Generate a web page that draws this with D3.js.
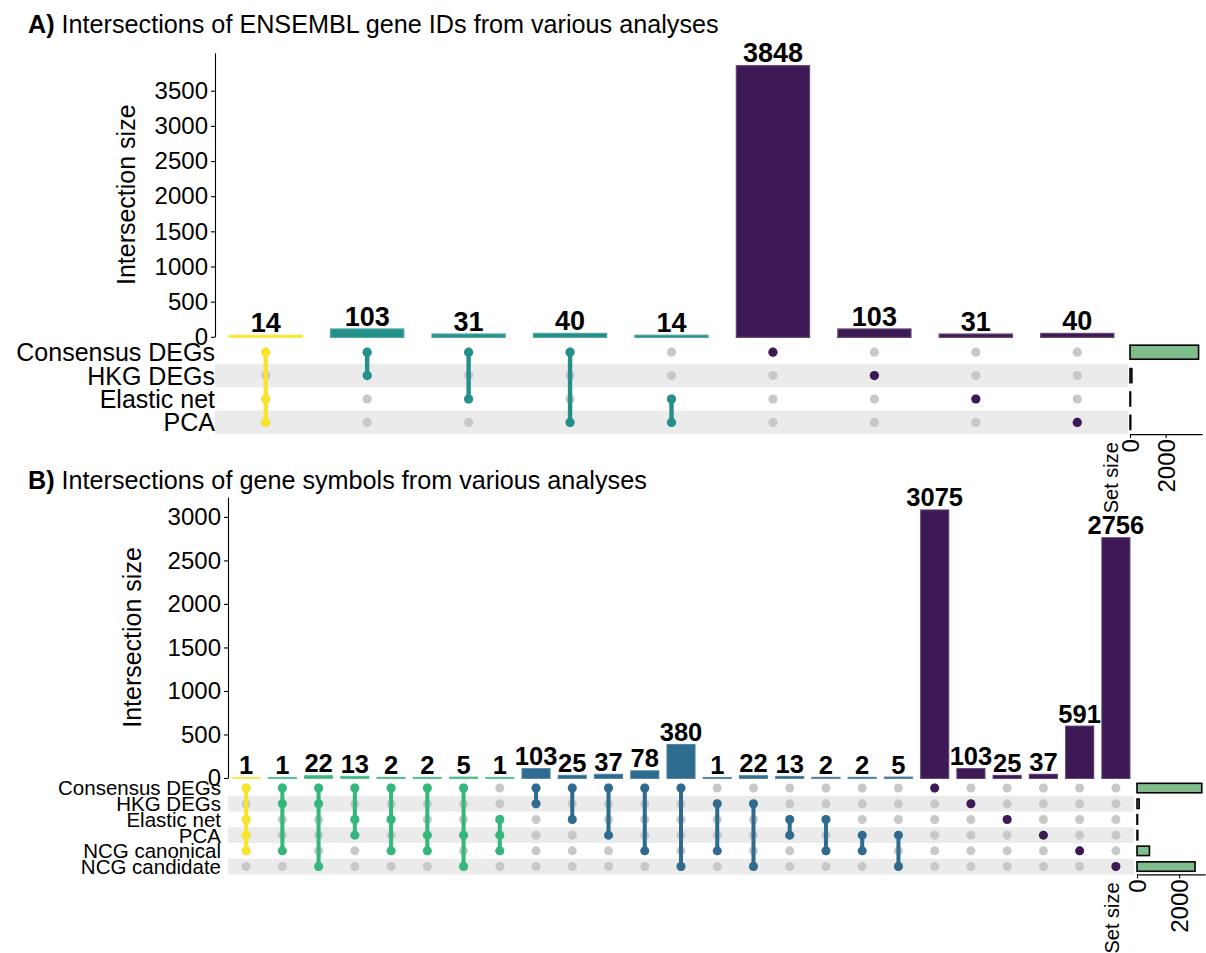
<!DOCTYPE html>
<html>
<head>
<meta charset="utf-8">
<script src="https://cdn.jsdelivr.net/npm/d3@7"></script>
<style>
  body { margin: 0; background: #fff; }
  text { font-family: "Liberation Sans", Arial, Helvetica, sans-serif; }
</style>
</head>
<body>
<svg id="chart" width="1206" height="953"></svg>
<script>
// ---- Panel A: ENSEMBL gene IDs ----
const setsA = ["Consensus DEGs", "HKG DEGs", "Elastic net", "PCA"];
const countsA = [14, 103, 31, 40, 14, 3848, 103, 31, 40];
const membersA = [[0, 2, 3], [0, 1], [0, 2], [0, 3], [2, 3], [0], [1], [2], [3]];
const setSizesA = [3848, 103, 31, 40];
const yTicksA = [0, 500, 1000, 1500, 2000, 2500, 3000, 3500];

// ---- Panel B: gene symbols ----
const setsB = ["Consensus DEGs", "HKG DEGs", "Elastic net", "PCA", "NCG canonical", "NCG candidate"];
const countsB = [1, 1, 22, 13, 2, 2, 5, 1, 103, 25, 37, 78, 380, 1, 22, 13, 2, 2, 5, 3075, 103, 25, 37, 591, 2756];
const membersB = [
  [0, 2, 3, 4], [0, 1, 4], [0, 1, 5], [0, 2, 3], [0, 2, 4], [0, 3, 4], [0, 3, 5], [2, 3, 4],
  [0, 1], [0, 2], [0, 3], [0, 4], [0, 5], [1, 4], [1, 5], [2, 3], [2, 4], [3, 4], [3, 5],
  [0], [1], [2], [3], [4], [5]
];
const setSizesB = [3075, 103, 25, 37, 591, 2756];
const yTicksB = [0, 500, 1000, 1500, 2000, 2500, 3000];

const setSizeTicks = [0, 2000];

// colours by intersection degree (1 = single set)
const degreeColorsA = ["#3d1a55", "#24908a", "#f7e52c"];
const degreeColorsB = ["#3d1a55", "#2e6b8e", "#33b77b", "#f7e52c"];

const svg = d3.select("#chart");
const FONT = '"Liberation Sans", Arial, Helvetica, sans-serif';

function drawUpset(cfg) {
  const g = svg.append("g");
  const n = cfg.counts.length;
  const maxCount = d3.max(cfg.counts);

  // title
  const t = g.append("text")
    .attr("x", cfg.titleX).attr("y", cfg.titleY)
    .attr("font-size", cfg.titleSize);
  t.append("tspan").attr("font-weight", "bold").text(cfg.tag);
  t.append("tspan").text(" " + cfg.title);

  const x = d3.scaleBand().domain(d3.range(n))
    .range([cfg.x0, cfg.x1])
    .paddingInner(cfg.pad).paddingOuter(cfg.pad / 2);
  const y = d3.scaleLinear().domain([0, maxCount * 1.05]).range([cfg.yZero, cfg.yTop]);

  // y axis
  const yAxis = g.append("g")
    .attr("transform", `translate(${cfg.x0},0)`)
    .call(d3.axisLeft(y).tickValues(cfg.yTicks).tickFormat(d3.format("d"))
      .tickSize(4).tickPadding(3).tickSizeOuter(0));
  yAxis.selectAll("text").attr("font-size", cfg.tickSize).attr("fill", "#000")
    .style("font-family", FONT);
  yAxis.selectAll("line, path").attr("stroke", "#000").attr("stroke-width", 1.1);

  g.append("text")
    .attr("transform", `translate(${cfg.yTitleX},${(cfg.yZero + cfg.yTop) / 2}) rotate(-90)`)
    .attr("text-anchor", "middle")
    .attr("font-size", cfg.axisTitleSize)
    .text("Intersection size");

  const color = i => cfg.colors[cfg.members[i].length - 1];

  // intersection bars
  g.append("g").selectAll("rect")
    .data(cfg.counts)
    .join("rect")
    .attr("x", (d, i) => x(i))
    .attr("width", x.bandwidth())
    .attr("y", d => y(d))
    .attr("height", d => y(0) - y(d))
    .attr("fill", (d, i) => color(i))
    .attr("stroke", (d, i) => color(i))
    .attr("stroke-opacity", 0.8)
    .attr("stroke-width", cfg.barStroke);

  // value labels
  g.append("g").selectAll("text")
    .data(cfg.counts)
    .join("text")
    .attr("x", (d, i) => x(i) + x.bandwidth() / 2)
    .attr("y", d => y(d) - cfg.labelGap)
    .attr("text-anchor", "middle")
    .attr("font-weight", "bold")
    .attr("font-size", cfg.valueSize)
    .text(d => d);

  // matrix rows
  const rowY = k => cfg.rowTop + cfg.rowStep * (k + 0.5);
  const sets = cfg.sets;

  g.append("g").selectAll("rect")
    .data(sets.map((s, k) => k).filter(k => k % 2 === 1))
    .join("rect")
    .attr("x", cfg.x0).attr("width", cfg.x1 - cfg.x0)
    .attr("y", k => cfg.rowTop + cfg.rowStep * k)
    .attr("height", cfg.rowStep)
    .attr("fill", "#ebebeb");

  g.append("g").selectAll("text")
    .data(sets)
    .join("text")
    .attr("x", cfg.rowLabelX)
    .attr("y", (d, k) => rowY(k))
    .attr("dy", "0.36em")
    .attr("text-anchor", "end")
    .attr("font-size", cfg.rowLabelSize)
    .text(d => d);

  // background dots
  const cells = [];
  cfg.counts.forEach((c, i) => sets.forEach((s, k) => cells.push({ i, k })));
  g.append("g").selectAll("circle")
    .data(cells)
    .join("circle")
    .attr("cx", d => x(d.i) + x.bandwidth() / 2)
    .attr("cy", d => rowY(d.k))
    .attr("r", cfg.dotR)
    .attr("fill", "#c8c8c8");

  // connecting segments
  g.append("g").selectAll("line")
    .data(cfg.members.map((m, i) => ({ i, lo: d3.min(m), hi: d3.max(m) })).filter(d => d.hi > d.lo))
    .join("line")
    .attr("x1", d => x(d.i) + x.bandwidth() / 2)
    .attr("x2", d => x(d.i) + x.bandwidth() / 2)
    .attr("y1", d => rowY(d.lo))
    .attr("y2", d => rowY(d.hi))
    .attr("stroke", d => color(d.i))
    .attr("stroke-width", cfg.lineW);

  // active dots
  const active = [];
  cfg.members.forEach((m, i) => m.forEach(k => active.push({ i, k })));
  g.append("g").selectAll("circle")
    .data(active)
    .join("circle")
    .attr("cx", d => x(d.i) + x.bandwidth() / 2)
    .attr("cy", d => rowY(d.k))
    .attr("r", cfg.dotR)
    .attr("fill", d => color(d.i));

  // set size bars
  const maxSet = d3.max(cfg.setSizes);
  const sx = d3.scaleLinear().domain([0, maxSet * 1.05]).range([cfg.sx0, cfg.sx1]);
  const barH = cfg.rowStep * 0.6;
  g.append("g").selectAll("rect")
    .data(cfg.setSizes)
    .join("rect")
    .attr("x", sx(0))
    .attr("width", d => sx(d) - sx(0))
    .attr("y", (d, k) => rowY(k) - barH / 2)
    .attr("height", barH)
    .attr("fill", "#80bd8e")
    .attr("stroke", "#000")
    .attr("stroke-width", 1.6);

  const axisY = cfg.rowTop + cfg.rowStep * sets.length;
  const sAxis = g.append("g")
    .attr("transform", `translate(0,${axisY})`)
    .call(d3.axisBottom(sx).tickValues(setSizeTicks).tickSize(4).tickSizeOuter(0).tickFormat(d3.format("d")));
  sAxis.selectAll("line, path").attr("stroke", "#000").attr("stroke-width", 1.1);
  sAxis.selectAll("text")
    .attr("transform", "rotate(-90)")
    .attr("x", -5).attr("y", 0).attr("dy", "0.36em")
    .attr("text-anchor", "end")
    .attr("font-size", cfg.tickSize)
    .attr("fill", "#000")
    .style("font-family", FONT);

  g.append("text")
    .attr("transform", `translate(${cfg.setTitleX},${axisY + 8}) rotate(-90)`)
    .attr("text-anchor", "end")
    .attr("dy", "0.36em")
    .attr("font-size", cfg.setTitleSize)
    .text("Set size");
}

drawUpset({
  tag: "A)", title: "Intersections of ENSEMBL gene IDs from various analyses",
  titleX: 28, titleY: 33, titleSize: 25.2,
  sets: setsA, counts: countsA, members: membersA, setSizes: setSizesA, yTicks: yTicksA,
  colors: degreeColorsA,
  x0: 215, x1: 1128, pad: 0.29,
  yTop: 52.7, yZero: 336.8, yTitleX: 135,
  rowTop: 340.5, rowStep: 23.4, rowLabelX: 215, rowLabelSize: 25,
  sx0: 1130, sx1: 1202,
  dotR: 4.6, lineW: 4.4, barStroke: 2.4, labelGap: 4,
  tickSize: 24, axisTitleSize: 25, valueSize: 27, setTitleSize: 20, setTitleX: 1111
});

drawUpset({
  tag: "B)", title: "Intersections of gene symbols from various analyses",
  titleX: 28, titleY: 489, titleSize: 25.2,
  sets: setsB, counts: countsB, members: membersB, setSizes: setSizesB, yTicks: yTicksB,
  colors: degreeColorsB,
  x0: 228, x1: 1134, pad: 0.25,
  yTop: 497, yZero: 778, yTitleX: 141,
  rowTop: 780.2, rowStep: 15.7, rowLabelX: 221, rowLabelSize: 20.5,
  sx0: 1137, sx1: 1205,
  dotR: 4.5, lineW: 4, barStroke: 2, labelGap: 4,
  tickSize: 24, axisTitleSize: 25, valueSize: 25.5, setTitleSize: 20, setTitleX: 1112
});
</script>
</body>
</html>
